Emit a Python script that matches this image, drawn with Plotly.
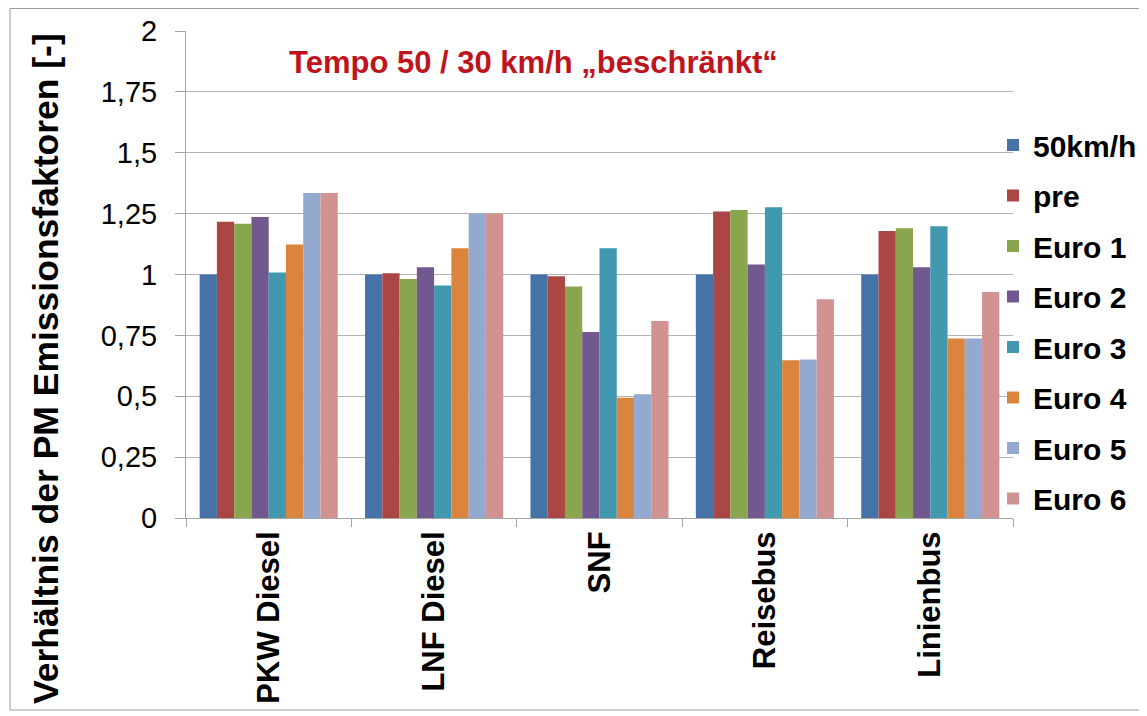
import plotly.graph_objects as go

categories = ["PKW Diesel", "LNF Diesel", "SNF", "Reisebus", "Linienbus"]
series_names = ["50km/h", "pre", "Euro 1", "Euro 2", "Euro 3", "Euro 4", "Euro 5", "Euro 6"]
v_50kmh = [1.0, 1.0, 1.0, 1.0, 1.0]
v_pre = [1.217, 1.005, 0.993, 1.259, 1.179]
v_euro1 = [1.208, 0.982, 0.951, 1.265, 1.190]
v_euro2 = [1.236, 1.030, 0.764, 1.041, 1.030]
v_euro3 = [1.008, 0.955, 1.108, 1.276, 1.198]
v_euro4 = [1.123, 1.108, 0.494, 0.648, 0.737]
v_euro5 = [1.335, 1.249, 0.508, 0.651, 0.737]
v_euro6 = [1.335, 1.249, 0.809, 0.898, 0.928]
series_values = [v_50kmh, v_pre, v_euro1, v_euro2, v_euro3, v_euro4, v_euro5, v_euro6]
colors = ["#4572A7", "#AA4643", "#89A54E", "#71588F", "#4198AF", "#DB843D", "#93A9CF", "#D19392"]
y_tickvals = [0, 0.25, 0.5, 0.75, 1, 1.25, 1.5, 1.75, 2]
y_ticktext = ["0", "0,25", "0,5", "0,75", "1", "1,25", "1,5", "1,75", "2"]

FONT = "Liberation Sans, Arial, sans-serif"

fig = go.Figure()
for i, (name, vals, col) in enumerate(zip(series_names, series_values, colors)):
    fig.add_trace(go.Bar(
        name=name, x=categories, y=vals,
        marker=dict(color=col, line=dict(width=0)),
        legendgroup=f"g{i}",
    ))

W, H = 1139, 708
L, R, T, B = 178, 134, 23, 198
PW, PH = W - L - R, H - T - B


def px_x(x):
    return (x - L) / PW


def px_y(y):
    return (H - B - y) / PH


fig.update_layout(
    width=W, height=H,
    margin=dict(l=L, r=R, t=T, b=B, autoexpand=False),
    paper_bgcolor="white", plot_bgcolor="white",
    barmode="group", bargap=0.165, bargroupgap=0,
    font=dict(family=FONT, color="black"),
    showlegend=True,
    legend=dict(
        x=px_x(985), xanchor="left", y=px_y(111), yanchor="top",
        font=dict(size=30, family=FONT, color="black", weight="bold"),
        traceorder="grouped", tracegroupgap=8.5,
        itemwidth=30, bgcolor="rgba(0,0,0,0)",
    ),
    xaxis=dict(
        showgrid=False, showline=True, linecolor="#a6a6a6", linewidth=1,
        ticks="outside", tickson="boundaries", ticklen=8, tickcolor="#a6a6a6",
        tickangle=-90,
        tickfont=dict(size=31, family=FONT, color="black", weight="bold"),
    ),
    yaxis=dict(
        range=[0, 2], tickvals=y_tickvals, ticktext=y_ticktext,
        showgrid=True, gridcolor="#b3b3b3", gridwidth=1,
        showline=True, linecolor="#a6a6a6", linewidth=1,
        ticks="outside", ticklen=10, tickcolor="#a6a6a6",
        ticklabelstandoff=12,
        tickfont=dict(size=29, family=FONT, color="black"),
        zeroline=False,
    ),
    annotations=[
        dict(
            text="Tempo 50 / 30 km/h „beschränkt“",
            xref="paper", yref="paper", x=px_x(525), y=px_y(54),
            xanchor="center", yanchor="middle", showarrow=False,
            font=dict(size=31, family=FONT, color="#C0141C", weight="bold"),
        ),
        dict(
            text="Verhältnis der PM Emissionsfaktoren [-]",
            xref="paper", yref="paper", x=px_x(38), y=px_y(361),
            xanchor="center", yanchor="middle", showarrow=False, textangle=-90,
            font=dict(size=35.5, family=FONT, color="black", weight="bold"),
        ),
    ],
    shapes=[dict(
        type="rect", xref="paper", yref="paper",
        x0=px_x(2), x1=px_x(1132),
        y0=px_y(702), y1=px_y(0.5),
        line=dict(color="#9a9a9a", width=1), fillcolor="rgba(0,0,0,0)",
        layer="below",
    )],
)

fig.write_html("out.html")
